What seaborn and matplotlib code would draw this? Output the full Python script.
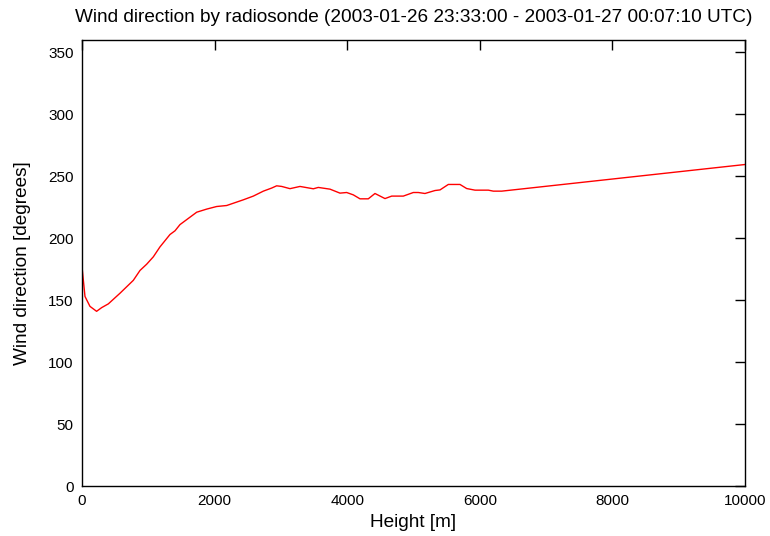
import matplotlib
matplotlib.use("Agg")
import matplotlib.pyplot as plt
import seaborn as sns
import pandas as pd

# Radiosonde profile: height above ground [m] and wind direction [degrees]
height_m = [0, 45, 120, 220, 297, 397, 573, 774, 875, 975, 1076, 1176, 1327,
            1403, 1478, 1730, 1880, 2031, 2182, 2433, 2584, 2735, 2861, 2936,
            3012, 3137, 3288, 3489, 3564, 3741, 3891, 3992, 4092, 4193, 4318,
            4419, 4570, 4671, 4846, 4997, 5073, 5173, 5324, 5400, 5525, 5701,
            5802, 5928, 6129, 6204, 6330, 10000]
wind_dir_deg = [177, 153, 145, 141, 144, 147, 155.6, 166, 174, 179, 185, 193,
                203, 206, 211, 221, 223.5, 225.6, 226.4, 231, 234, 238, 240.5,
                242.3, 241.8, 240, 241.8, 239.9, 241, 239.6, 236.4, 236.9, 235,
                231.8, 231.8, 236.1, 232, 234, 234, 236.9, 236.9, 236.1, 238.5,
                239, 243.4, 243.4, 240.1, 238.8, 238.8, 238, 238, 259.5]

x_ticks = [0, 2000, 4000, 6000, 8000, 10000]
y_ticks = [0, 50, 100, 150, 200, 250, 300, 350]

title = "Wind direction by radiosonde (2003-01-26 23:33:00 - 2003-01-27 00:07:10 UTC)"

sns.set_style("white")
plt.rcParams["font.family"] = ["Liberation Sans", "DejaVu Sans"]
plt.rcParams["text.color"] = "black"
plt.rcParams["axes.labelcolor"] = "black"

df = pd.DataFrame({"height": height_m, "direction": wind_dir_deg})

fig = plt.figure(figsize=(7.7, 5.36), dpi=100)
ax = fig.add_axes([82 / 770, 50 / 536, 663 / 770, 446 / 536])

sns.lineplot(data=df, x="height", y="direction", ax=ax, color="#ff0000",
             linewidth=1.0, sort=False, estimator=None)

ax.set_xlim(0, 10000)
ax.set_ylim(0, 360)
ax.set_xticks(x_ticks)
ax.set_yticks(y_ticks)
ax.tick_params(direction="in", length=7, width=1, colors="black",
               labelcolor="black", labelsize=11, top=True, right=True, pad=6)
for side in ax.spines.values():
    side.set_color("black")
    side.set_linewidth(1.0)

ax.set_xlabel("Height [m]", fontsize=13.7, labelpad=4, color="black")
ax.set_ylabel("Wind direction [degrees]", fontsize=13.7, labelpad=12, color="black")
ax.set_title(title, fontsize=13.7, pad=13, color="black")

fig.savefig("out.png", dpi=100)
